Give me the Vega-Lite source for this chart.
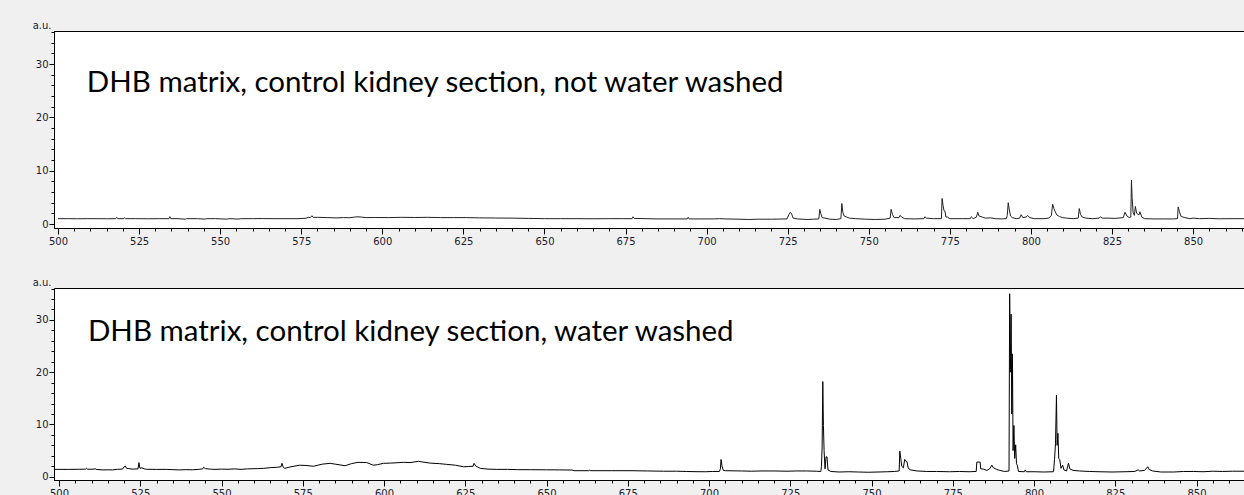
{
  "$schema": "https://vega.github.io/schema/vega-lite/v6.json",
  "padding": {"left": 31, "top": 20, "right": 0, "bottom": 0},
  "background": "#f0f0f0",
  "columns": 1,
  "align": "none",
  "spacing": 30,
  "datasets": {
    "notwashed": [
      {"mz":500,"intensity":1.0},{"mz":503,"intensity":1.0},{"mz":506,"intensity":0.98},{"mz":509,"intensity":1.0},{"mz":512,"intensity":1.0},{"mz":515,"intensity":0.98},{"mz":517.8,"intensity":1.0},{"mz":518.1,"intensity":1.25},{"mz":518.4,"intensity":1.0},{"mz":520.3,"intensity":1.0},{"mz":520.5,"intensity":1.18},{"mz":520.8,"intensity":1.0},{"mz":524,"intensity":1.0},{"mz":528,"intensity":0.98},{"mz":531,"intensity":1.0},{"mz":534.2,"intensity":1.0},{"mz":534.5,"intensity":1.38},{"mz":534.8,"intensity":1.0},{"mz":537,"intensity":1.0},{"mz":539.3,"intensity":0.9},{"mz":539.6,"intensity":1.0},{"mz":543,"intensity":1.0},{"mz":545.3,"intensity":0.92},{"mz":545.8,"intensity":1.0},{"mz":548.5,"intensity":1.0},{"mz":552,"intensity":0.92},{"mz":553,"intensity":1.0},{"mz":555.5,"intensity":0.92},{"mz":556.5,"intensity":1.0},{"mz":560,"intensity":1.0},{"mz":563,"intensity":1.02},{"mz":566,"intensity":1.0},{"mz":570,"intensity":1.0},{"mz":574,"intensity":1.0},{"mz":576.5,"intensity":1.08},{"mz":577.2,"intensity":1.25},{"mz":577.8,"intensity":1.2},{"mz":578.3,"intensity":1.55},{"mz":578.7,"intensity":1.25},{"mz":580,"intensity":1.25},{"mz":583,"intensity":1.2},{"mz":586,"intensity":1.15},{"mz":588,"intensity":1.2},{"mz":590,"intensity":1.18},{"mz":591.5,"intensity":1.3},{"mz":592.5,"intensity":1.35},{"mz":593.5,"intensity":1.3},{"mz":595,"intensity":1.2},{"mz":598,"intensity":1.22},{"mz":602,"intensity":1.2},{"mz":606,"intensity":1.25},{"mz":610,"intensity":1.22},{"mz":614,"intensity":1.25},{"mz":618,"intensity":1.2},{"mz":622,"intensity":1.2},{"mz":626,"intensity":1.2},{"mz":630,"intensity":1.15},{"mz":635,"intensity":1.12},{"mz":640,"intensity":1.1},{"mz":645,"intensity":1.05},{"mz":650,"intensity":1.0},{"mz":655,"intensity":1.0},{"mz":660,"intensity":1.0},{"mz":665,"intensity":0.98},{"mz":670,"intensity":1.0},{"mz":674,"intensity":1.0},{"mz":677,"intensity":1.0},{"mz":677.3,"intensity":1.35},{"mz":677.7,"intensity":1.05},{"mz":681,"intensity":1.0},{"mz":685,"intensity":0.95},{"mz":690,"intensity":0.95},{"mz":694,"intensity":0.95},{"mz":694.3,"intensity":1.25},{"mz":694.6,"intensity":0.95},{"mz":698,"intensity":0.95},{"mz":702,"intensity":0.95},{"mz":704,"intensity":1.0},{"mz":706,"intensity":0.95},{"mz":710,"intensity":0.9},{"mz":713,"intensity":0.85},{"mz":716,"intensity":0.9},{"mz":720,"intensity":0.9},{"mz":724.8,"intensity":0.95},{"mz":725.4,"intensity":1.8},{"mz":725.8,"intensity":2.2},{"mz":726.2,"intensity":1.9},{"mz":726.7,"intensity":1.1},{"mz":728,"intensity":0.95},{"mz":731,"intensity":0.85},{"mz":733,"intensity":0.9},{"mz":734.6,"intensity":0.95},{"mz":734.9,"intensity":2.75},{"mz":735.2,"intensity":2.0},{"mz":735.6,"intensity":1.2},{"mz":736.5,"intensity":1.1},{"mz":738,"intensity":0.9},{"mz":740,"intensity":0.85},{"mz":741.4,"intensity":1.0},{"mz":741.7,"intensity":3.85},{"mz":742.0,"intensity":2.2},{"mz":742.4,"intensity":1.5},{"mz":743.2,"intensity":1.3},{"mz":744,"intensity":1.1},{"mz":746,"intensity":1.0},{"mz":749,"intensity":0.9},{"mz":752,"intensity":0.85},{"mz":755,"intensity":0.9},{"mz":756.6,"intensity":1.1},{"mz":756.9,"intensity":2.75},{"mz":757.3,"intensity":1.8},{"mz":757.8,"intensity":1.2},{"mz":759.3,"intensity":1.2},{"mz":759.6,"intensity":1.6},{"mz":760.2,"intensity":1.3},{"mz":761,"intensity":1.0},{"mz":764,"intensity":0.95},{"mz":767,"intensity":1.0},{"mz":767.3,"intensity":1.35},{"mz":767.8,"intensity":1.1},{"mz":770,"intensity":1.0},{"mz":772.4,"intensity":1.0},{"mz":772.6,"intensity":4.8},{"mz":772.9,"intensity":3.5},{"mz":773.2,"intensity":2.5},{"mz":773.5,"intensity":2.4},{"mz":773.8,"intensity":1.3},{"mz":774.3,"intensity":1.3},{"mz":775,"intensity":1.0},{"mz":779,"intensity":1.0},{"mz":781.3,"intensity":1.0},{"mz":781.6,"intensity":1.35},{"mz":782.2,"intensity":1.0},{"mz":783.2,"intensity":1.3},{"mz":783.6,"intensity":2.2},{"mz":784,"intensity":1.5},{"mz":785,"intensity":1.3},{"mz":786,"intensity":1.1},{"mz":787.5,"intensity":1.15},{"mz":789,"intensity":1.0},{"mz":791,"intensity":0.95},{"mz":792.4,"intensity":1.0},{"mz":792.7,"intensity":1.6},{"mz":793.0,"intensity":4.0},{"mz":793.3,"intensity":2.8},{"mz":793.7,"intensity":1.5},{"mz":794.2,"intensity":1.2},{"mz":795.5,"intensity":1.0},{"mz":796.5,"intensity":1.1},{"mz":797,"intensity":1.75},{"mz":797.5,"intensity":1.2},{"mz":798.5,"intensity":1.3},{"mz":799,"intensity":1.6},{"mz":799.6,"intensity":1.2},{"mz":801,"intensity":1.0},{"mz":804,"intensity":1.0},{"mz":805.5,"intensity":1.1},{"mz":806.3,"intensity":1.6},{"mz":806.7,"intensity":3.7},{"mz":807.1,"intensity":2.9},{"mz":807.5,"intensity":2.3},{"mz":808,"intensity":1.7},{"mz":808.8,"intensity":1.4},{"mz":809.7,"intensity":1.2},{"mz":811,"intensity":1.1},{"mz":813,"intensity":1.0},{"mz":814.6,"intensity":1.1},{"mz":814.9,"intensity":2.9},{"mz":815.3,"intensity":1.8},{"mz":815.8,"intensity":1.3},{"mz":817,"intensity":1.1},{"mz":819,"intensity":1.0},{"mz":821,"intensity":1.1},{"mz":821.4,"intensity":1.35},{"mz":822,"intensity":1.1},{"mz":824,"intensity":1.1},{"mz":826,"intensity":1.05},{"mz":828.5,"intensity":1.2},{"mz":829,"intensity":2.2},{"mz":829.6,"intensity":1.5},{"mz":830.3,"intensity":1.2},{"mz":830.8,"intensity":1.3},{"mz":831,"intensity":8.2},{"mz":831.2,"intensity":5.0},{"mz":831.5,"intensity":2.2},{"mz":831.9,"intensity":1.6},{"mz":832.2,"intensity":3.3},{"mz":832.6,"intensity":2.0},{"mz":833.3,"intensity":1.7},{"mz":833.6,"intensity":2.3},{"mz":834.2,"intensity":1.3},{"mz":835,"intensity":1.0},{"mz":838,"intensity":0.95},{"mz":841,"intensity":0.95},{"mz":844,"intensity":0.95},{"mz":845.2,"intensity":1.0},{"mz":845.4,"intensity":3.2},{"mz":845.8,"intensity":2.3},{"mz":846.3,"intensity":1.4},{"mz":847.5,"intensity":1.2},{"mz":849,"intensity":1.0},{"mz":850,"intensity":1.1},{"mz":852,"intensity":1.0},{"mz":855,"intensity":1.05},{"mz":858,"intensity":0.98},{"mz":862,"intensity":1.0},{"mz":866,"intensity":1.0}
    ],
    "washed": [
      {"mz":498,"intensity":1.4},{"mz":503,"intensity":1.4},{"mz":506,"intensity":1.42},{"mz":508.2,"intensity":1.45},{"mz":508.5,"intensity":1.6},{"mz":508.8,"intensity":1.42},{"mz":510.8,"intensity":1.45},{"mz":511.1,"intensity":1.55},{"mz":511.4,"intensity":1.4},{"mz":513.5,"intensity":1.3},{"mz":515,"intensity":1.32},{"mz":516.5,"intensity":1.3},{"mz":518,"intensity":1.42},{"mz":519.5,"intensity":1.45},{"mz":520,"intensity":1.85},{"mz":520.4,"intensity":2.05},{"mz":520.8,"intensity":1.6},{"mz":521.5,"intensity":1.55},{"mz":522.5,"intensity":1.45},{"mz":524.3,"intensity":1.5},{"mz":524.6,"intensity":2.7},{"mz":524.9,"intensity":1.6},{"mz":525.5,"intensity":1.7},{"mz":526.2,"intensity":1.5},{"mz":527,"intensity":1.42},{"mz":530,"intensity":1.4},{"mz":533,"intensity":1.4},{"mz":535,"intensity":1.35},{"mz":537,"intensity":1.3},{"mz":539,"intensity":1.35},{"mz":541,"intensity":1.32},{"mz":543,"intensity":1.4},{"mz":544.2,"intensity":1.5},{"mz":544.5,"intensity":1.8},{"mz":545,"intensity":1.55},{"mz":546.5,"intensity":1.45},{"mz":548,"intensity":1.4},{"mz":550,"intensity":1.45},{"mz":552,"intensity":1.42},{"mz":554,"intensity":1.5},{"mz":556,"intensity":1.4},{"mz":558,"intensity":1.5},{"mz":561,"intensity":1.55},{"mz":563,"intensity":1.6},{"mz":565,"intensity":1.73},{"mz":567,"intensity":1.8},{"mz":568.3,"intensity":1.9},{"mz":568.6,"intensity":2.56},{"mz":569,"intensity":1.8},{"mz":569.5,"intensity":1.6},{"mz":571,"intensity":1.85},{"mz":574,"intensity":2.2},{"mz":576,"intensity":2.15},{"mz":578.3,"intensity":2.0},{"mz":581,"intensity":2.4},{"mz":583.4,"intensity":2.56},{"mz":585,"intensity":2.4},{"mz":588,"intensity":2.1},{"mz":590,"intensity":2.5},{"mz":592,"intensity":2.75},{"mz":594.7,"intensity":2.7},{"mz":596.7,"intensity":2.2},{"mz":598,"intensity":2.3},{"mz":599.8,"intensity":2.56},{"mz":602,"intensity":2.6},{"mz":606,"intensity":2.75},{"mz":608,"intensity":2.7},{"mz":610.6,"intensity":2.94},{"mz":612,"intensity":2.8},{"mz":614.2,"intensity":2.6},{"mz":617,"intensity":2.5},{"mz":619.3,"intensity":2.36},{"mz":622,"intensity":2.2},{"mz":624.5,"intensity":1.9},{"mz":626,"intensity":1.95},{"mz":627.4,"intensity":2.0},{"mz":627.7,"intensity":2.56},{"mz":628.2,"intensity":2.05},{"mz":629.6,"intensity":1.6},{"mz":632,"intensity":1.45},{"mz":634.7,"intensity":1.4},{"mz":638,"intensity":1.4},{"mz":641,"intensity":1.35},{"mz":645,"intensity":1.34},{"mz":650,"intensity":1.32},{"mz":654,"intensity":1.3},{"mz":657.8,"intensity":1.28},{"mz":658.5,"intensity":1.15},{"mz":663,"intensity":1.15},{"mz":663.3,"intensity":1.25},{"mz":663.6,"intensity":1.15},{"mz":670,"intensity":1.15},{"mz":676,"intensity":1.15},{"mz":681,"intensity":1.1},{"mz":686,"intensity":1.05},{"mz":690,"intensity":1.05},{"mz":693,"intensity":1.0},{"mz":696.3,"intensity":0.96},{"mz":699,"intensity":0.95},{"mz":701,"intensity":1.0},{"mz":703.2,"intensity":1.0},{"mz":703.5,"intensity":1.5},{"mz":703.7,"intensity":3.3},{"mz":704.0,"intensity":2.0},{"mz":704.4,"intensity":1.2},{"mz":705,"intensity":1.15},{"mz":710,"intensity":1.1},{"mz":713,"intensity":1.05},{"mz":716,"intensity":1.1},{"mz":720,"intensity":1.1},{"mz":724,"intensity":1.05},{"mz":727,"intensity":1.1},{"mz":730,"intensity":1.1},{"mz":733,"intensity":1.05},{"mz":734.4,"intensity":1.0},{"mz":734.6,"intensity":2.0},{"mz":734.8,"intensity":5.7},{"mz":735.0,"intensity":18.2},{"mz":735.2,"intensity":9.8},{"mz":735.4,"intensity":5.0},{"mz":735.7,"intensity":1.5},{"mz":736.0,"intensity":3.8},{"mz":736.3,"intensity":3.8},{"mz":736.6,"intensity":1.3},{"mz":737.5,"intensity":1.0},{"mz":740,"intensity":0.9},{"mz":743,"intensity":0.95},{"mz":746,"intensity":0.9},{"mz":749,"intensity":0.85},{"mz":752,"intensity":0.9},{"mz":755,"intensity":0.95},{"mz":757,"intensity":1.0},{"mz":758.5,"intensity":1.1},{"mz":758.7,"intensity":4.9},{"mz":759.0,"intensity":3.5},{"mz":759.3,"intensity":2.0},{"mz":759.8,"intensity":1.7},{"mz":760.2,"intensity":3.3},{"mz":760.5,"intensity":3.0},{"mz":760.9,"intensity":2.9},{"mz":761.3,"intensity":1.6},{"mz":762,"intensity":1.3},{"mz":764,"intensity":1.1},{"mz":767,"intensity":1.0},{"mz":770,"intensity":1.0},{"mz":774,"intensity":0.95},{"mz":777,"intensity":1.0},{"mz":780,"intensity":0.95},{"mz":782.2,"intensity":1.0},{"mz":782.4,"intensity":2.8},{"mz":783.4,"intensity":2.8},{"mz":783.6,"intensity":1.5},{"mz":784.5,"intensity":1.45},{"mz":785.5,"intensity":1.2},{"mz":786.5,"intensity":1.6},{"mz":787,"intensity":2.2},{"mz":787.5,"intensity":1.7},{"mz":788.5,"intensity":1.4},{"mz":789.5,"intensity":1.2},{"mz":791,"intensity":1.0},{"mz":792.3,"intensity":1.1},{"mz":792.5,"intensity":35.0},{"mz":792.75,"intensity":20.0},{"mz":792.95,"intensity":31.1},{"mz":793.15,"intensity":12.0},{"mz":793.35,"intensity":23.5},{"mz":793.55,"intensity":5.0},{"mz":793.8,"intensity":9.8},{"mz":794.05,"intensity":3.5},{"mz":794.35,"intensity":6.1},{"mz":794.6,"intensity":2.5},{"mz":794.9,"intensity":2.1},{"mz":795.2,"intensity":1.0},{"mz":797,"intensity":0.95},{"mz":797.3,"intensity":1.3},{"mz":797.6,"intensity":0.95},{"mz":800,"intensity":0.95},{"mz":803,"intensity":0.9},{"mz":806,"intensity":0.95},{"mz":806.3,"intensity":3.3},{"mz":806.6,"intensity":6.3},{"mz":806.9,"intensity":15.6},{"mz":807.1,"intensity":6.0},{"mz":807.35,"intensity":8.3},{"mz":807.6,"intensity":3.5},{"mz":807.9,"intensity":3.3},{"mz":808.3,"intensity":1.6},{"mz":808.8,"intensity":2.2},{"mz":809.2,"intensity":1.3},{"mz":810,"intensity":1.1},{"mz":810.6,"intensity":2.6},{"mz":811,"intensity":1.5},{"mz":812,"intensity":1.2},{"mz":814,"intensity":1.1},{"mz":817,"intensity":1.0},{"mz":820,"intensity":0.95},{"mz":824,"intensity":0.9},{"mz":828,"intensity":0.95},{"mz":831,"intensity":1.0},{"mz":832,"intensity":1.3},{"mz":832.5,"intensity":1.1},{"mz":834,"intensity":1.2},{"mz":835,"intensity":1.9},{"mz":835.4,"intensity":1.4},{"mz":836.5,"intensity":1.1},{"mz":839,"intensity":0.9},{"mz":843,"intensity":0.9},{"mz":846,"intensity":1.0},{"mz":849,"intensity":1.0},{"mz":852,"intensity":0.95},{"mz":855,"intensity":1.05},{"mz":858,"intensity":1.0},{"mz":861,"intensity":1.05},{"mz":865,"intensity":1.05}
    ]
  },
  "concat": [
    {
      "width": 1190,
      "height": 197,
      "resolve": {"axis": {"x": "independent", "y": "independent"}},
      "layer": [
        {
          "data": {"name": "notwashed"},
          "mark": {"type": "line", "color": "#222222", "strokeWidth": 1, "clip": true},
          "encoding": {
            "x": {"field": "mz", "type": "quantitative", "scale": {"domain": [498.77, 865.7], "nice": false, "zero": false},
              "axis": {"orient": "bottom", "values": [500,525,550,575,600,625,650,675,700,725,750,775,800,825,850], "title": null, "grid": false, "tickSize": 6, "tickColor": "black", "domainColor": "black", "labelFont": "DejaVu Sans", "labelFontSize": 10, "labelColor": "#1b1b2f", "labelPadding": 2, "labelFlush": false, "labelOverlap": false}},
            "y": {"field": "intensity", "type": "quantitative", "scale": {"domain": [-0.75, 36.2], "nice": false, "zero": false},
              "axis": {"orient": "left", "values": [0,10,20,30], "title": "a.u.", "titleAngle": 0, "titleAlign": "right", "titleBaseline": "alphabetic", "titleX": -3, "titleY": -2.5, "titleFont": "DejaVu Sans", "titleFontSize": 10, "titleFontWeight": "normal", "titleColor": "#1b1b2f", "grid": false, "tickSize": 5, "tickColor": "black", "domainColor": "black", "labelFont": "DejaVu Sans", "labelFontSize": 10, "labelColor": "#1b1b2f", "labelPadding": 1, "labelFlush": false, "labelOverlap": false}}
          }
        },
        {
          "data": {"values": [{"label": "DHB matrix, control kidney section, not water washed"}]},
          "mark": {"type": "text", "align": "left", "baseline": "alphabetic", "font": "Lato", "fontSize": 29.5, "color": "black"},
          "encoding": {
            "x": {"datum": 508.9, "type": "quantitative",
              "axis": {"orient": "bottom", "values": [500,505,510,515,520,525,530,535,540,545,550,555,560,565,570,575,580,585,590,595,600,605,610,615,620,625,630,635,640,645,650,655,660,665,670,675,680,685,690,695,700,705,710,715,720,725,730,735,740,745,750,755,760,765,770,775,780,785,790,795,800,805,810,815,820,825,830,835,840,845,850,855,860,865], "title": null, "grid": false, "labels": false, "domain": false, "tickSize": 3, "tickColor": "black"}},
            "y": {"datum": 24.8, "type": "quantitative",
              "axis": {"orient": "left", "values": [0,2,4,6,8,10,12,14,16,18,20,22,24,26,28,30,32,34,36], "title": null, "grid": false, "labels": false, "domain": false, "tickSize": 3, "tickColor": "black"}},
            "text": {"field": "label"}
          }
        }
      ]
    },
    {
      "width": 1190,
      "height": 192,
      "resolve": {"axis": {"x": "independent", "y": "independent"}},
      "layer": [
        {
          "data": {"name": "washed"},
          "mark": {"type": "line", "color": "black", "strokeWidth": 1, "clip": true},
          "encoding": {
            "x": {"field": "mz", "type": "quantitative", "scale": {"domain": [498.46, 864.6], "nice": false, "zero": false},
              "axis": {"orient": "bottom", "values": [500,525,550,575,600,625,650,675,700,725,750,775,800,825,850], "title": null, "grid": false, "tickSize": 6, "tickColor": "black", "domainColor": "black", "labelFont": "DejaVu Sans", "labelFontSize": 10, "labelColor": "#1b1b2f", "labelPadding": 2, "labelFlush": false, "labelOverlap": false}},
            "y": {"field": "intensity", "type": "quantitative", "scale": {"domain": [-0.63, 36.1], "nice": false, "zero": false},
              "axis": {"orient": "left", "values": [0,10,20,30], "title": "a.u.", "titleAngle": 0, "titleAlign": "right", "titleBaseline": "alphabetic", "titleX": -3, "titleY": -2.5, "titleFont": "DejaVu Sans", "titleFontSize": 10, "titleFontWeight": "normal", "titleColor": "#1b1b2f", "grid": false, "tickSize": 5, "tickColor": "black", "domainColor": "black", "labelFont": "DejaVu Sans", "labelFontSize": 10, "labelColor": "#1b1b2f", "labelPadding": 1, "labelFlush": false, "labelOverlap": false}}
          }
        },
        {
          "data": {"values": [{"label": "DHB matrix, control kidney section, water washed"}]},
          "mark": {"type": "text", "align": "left", "baseline": "alphabetic", "font": "Lato", "fontSize": 29.5, "color": "black"},
          "encoding": {
            "x": {"datum": 508.9, "type": "quantitative",
              "axis": {"orient": "bottom", "values": [500,505,510,515,520,525,530,535,540,545,550,555,560,565,570,575,580,585,590,595,600,605,610,615,620,625,630,635,640,645,650,655,660,665,670,675,680,685,690,695,700,705,710,715,720,725,730,735,740,745,750,755,760,765,770,775,780,785,790,795,800,805,810,815,820,825,830,835,840,845,850,855,860], "title": null, "grid": false, "labels": false, "domain": false, "tickSize": 3, "tickColor": "black"}},
            "y": {"datum": 26.0, "type": "quantitative",
              "axis": {"orient": "left", "values": [0,2,4,6,8,10,12,14,16,18,20,22,24,26,28,30,32,34,36], "title": null, "grid": false, "labels": false, "domain": false, "tickSize": 3, "tickColor": "black"}},
            "text": {"field": "label"}
          }
        }
      ]
    }
  ],
  "config": {
    "view": {"stroke": "black", "strokeWidth": 1, "fill": "white"},
    "axis": {"tickWidth": 1, "domainWidth": 1}
  }
}
